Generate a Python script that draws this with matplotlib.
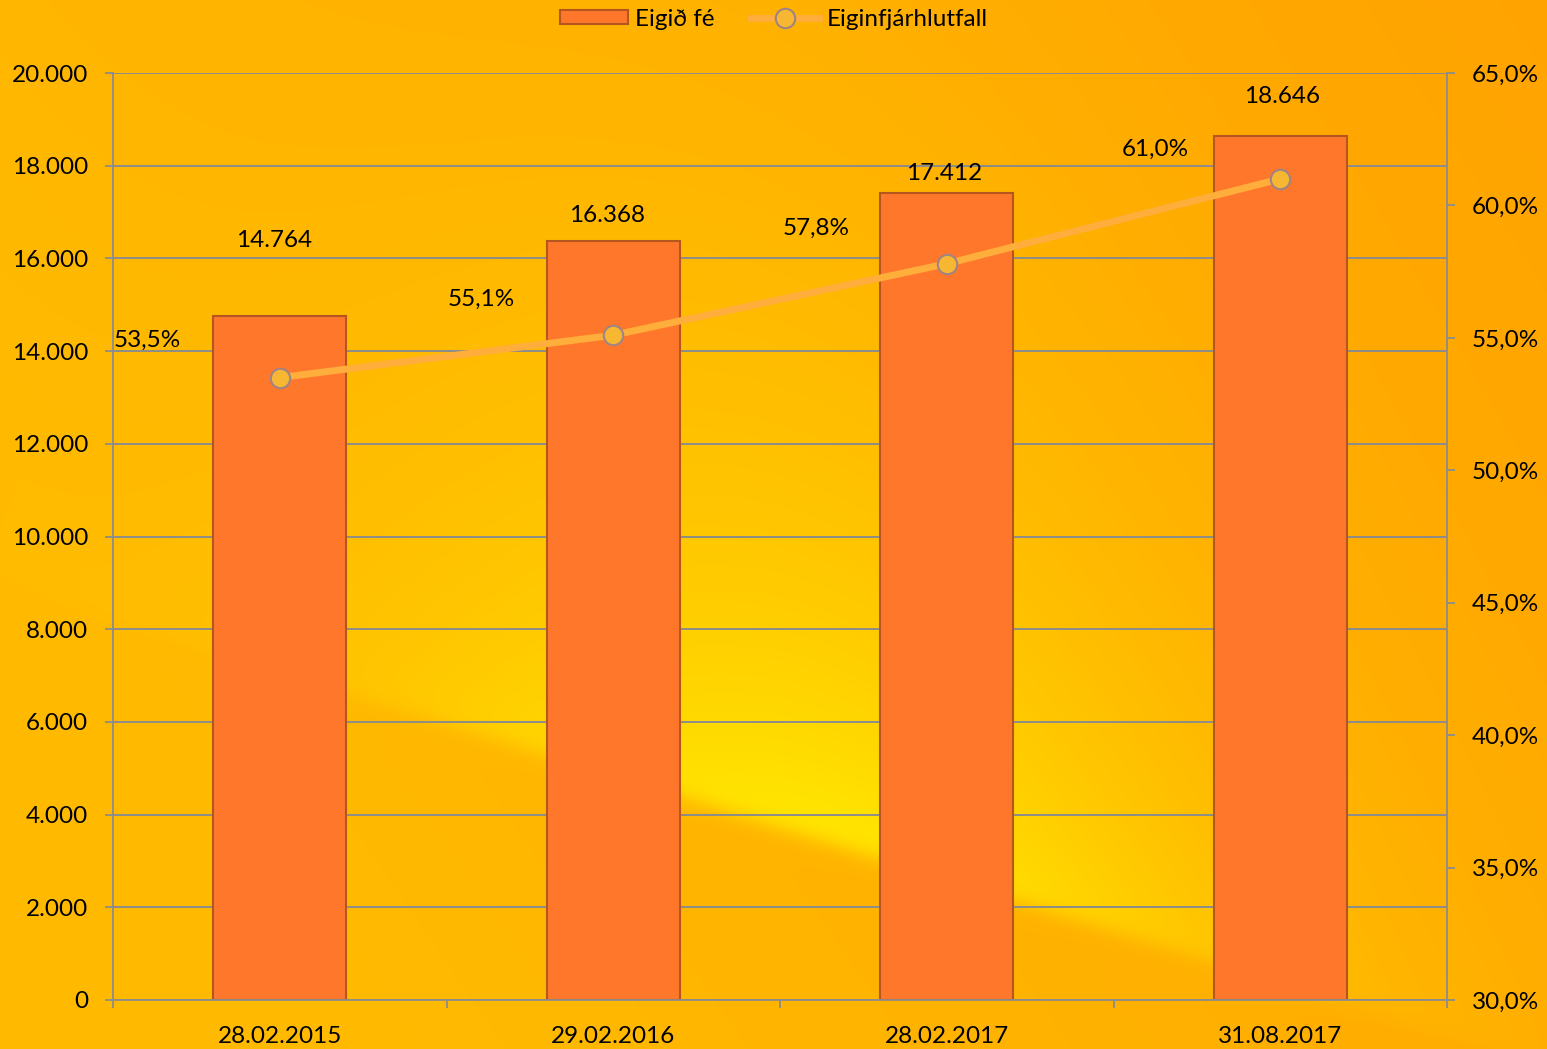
import numpy as np
import matplotlib
matplotlib.use("Agg")
import matplotlib.pyplot as plt
from matplotlib.patches import Patch
from matplotlib.lines import Line2D
from matplotlib.ticker import FixedLocator, FuncFormatter

categories = ['28.02.2015', '29.02.2016', '28.02.2017', '31.08.2017']
equity = [14764, 16368, 17412, 18646]
ratio = [53.5, 55.1, 57.8, 61.0]
equity_labels = ['14.764', '16.368', '17.412', '18.646']
ratio_labels = ['53,5%', '55,1%', '57,8%', '61,0%']
left_ticks = [0, 2000, 4000, 6000, 8000, 10000, 12000, 14000, 16000, 18000, 20000]
right_ticks = [30, 35, 40, 45, 50, 55, 60, 65]

# label placement (pixels)
equity_label_offsets = [(-6, 75), (-6, 26), (-3, 19), (2, 39)]
ratio_label_offsets = [(-132, 37), (-132, 36), (-131, 35), (-125, 30)]

plt.rcParams['font.family'] = ['Lato', 'DejaVu Sans']
FS = 17.5

W, H = 1547, 1049
fig = plt.figure(figsize=(W / 100, H / 100), dpi=100)

# background gradient (decorative)
bg = fig.add_axes([0, 0, 1, 1], zorder=-10)
yy, xx = np.mgrid[0:H, 0:W].astype(float)
orange = np.array([1.0, 0.63, 0.0])
amber = np.array([1.0, 0.73, 0.0])
yellow = np.array([1.0, 0.91, 0.0])
t = np.clip(0.75 * xx / W + 0.35 * (1 - yy / H) - 0.2, 0, 1)[..., None]
img = amber * (1 - t) + orange * t
yline = 585 + 0.31 * xx
d = yline - yy
edge = 1 / (1 + np.exp(-d / 6))
fall = np.exp(-np.clip(d, 0, None) / 320)
horiz = np.exp(-((xx - 820) / 420) ** 2)
w = np.clip(edge * fall * horiz * 1.0, 0, 1)[..., None]
img = img * (1 - w) + yellow * w
bg.imshow(img, aspect='auto', extent=[0, 1, 0, 1])
bg.axis('off')

ax = fig.add_axes([113 / W, 1 - 1000 / H, (1447 - 113) / W, (1000 - 73) / H])
ax.patch.set_alpha(0)
gray = '#8c8c8c'

x = np.arange(len(categories))
ax.bar(x, equity, width=0.4, color='#FF772B', edgecolor='#B5561E', linewidth=1.5, zorder=2)
ax.set_xlim(-0.5, 3.5)
ax.set_ylim(0, 20000)
ax.yaxis.set_major_locator(FixedLocator(left_ticks))
ax.yaxis.set_major_formatter(FuncFormatter(lambda v, p: f"{int(v):,}".replace(',', '.')))
ax.grid(axis='y', color=gray, linewidth=1.4, zorder=0)
ax.set_axisbelow(True)
ax.set_xticks(x)
ax.set_xticklabels(categories)
ax.set_xticks(np.arange(-0.5, 4, 1), minor=True)
ax.tick_params(axis='x', which='major', length=0, pad=19, labelsize=FS)
ax.tick_params(axis='x', which='minor', length=6, color=gray, width=1.3, direction='out')
ax.tick_params(axis='y', length=6, color=gray, width=1.3, pad=12, labelsize=FS)
for s in ['top', 'right']:
    ax.spines[s].set_visible(False)
for s in ['left', 'bottom']:
    ax.spines[s].set_color(gray)
    ax.spines[s].set_linewidth(1.3)

for xi, v, lab, off in zip(x, equity, equity_labels, equity_label_offsets):
    ax.annotate(lab, (xi, v), xytext=(off[0], off[1]), textcoords='offset pixels',
                ha='center', va='center', fontsize=FS)

ax2 = ax.twinx()
ax2.patch.set_alpha(0)
ax2.set_ylim(30, 65)
ax2.yaxis.set_major_locator(FixedLocator(right_ticks))
ax2.yaxis.set_major_formatter(FuncFormatter(lambda v, p: f"{v:.1f}%".replace('.', ',')))
ax2.tick_params(axis='y', length=6, color=gray, width=1.3, pad=12, labelsize=FS)
for s in ['top', 'left', 'bottom']:
    ax2.spines[s].set_visible(False)
ax2.spines['right'].set_color(gray)
ax2.spines['right'].set_linewidth(1.3)

ax2.plot(x, ratio, color='#FFAD3B', linewidth=5, solid_capstyle='round', zorder=3,
         marker='o', markersize=14, markerfacecolor='#F7B733',
         markeredgecolor='#A08484', markeredgewidth=1.5)
for xi, v, lab, off in zip(x, ratio, ratio_labels, ratio_label_offsets):
    ax2.annotate(lab, (xi, v), xytext=(off[0], off[1]), textcoords='offset pixels',
                 ha='center', va='center', fontsize=FS)

handles = [Patch(facecolor='#FF772B', edgecolor='#B5561E', linewidth=1.5),
           Line2D([0], [0], color='#FFAD3B', linewidth=5, marker='o', markersize=14,
                  markerfacecolor='#F7B733', markeredgecolor='#A08484', markeredgewidth=1.5)]
fig.legend(handles, ['Eigið fé', 'Eiginfjárhlutfall'], loc='center',
           bbox_to_anchor=(0.5, 1 - 19 / H), ncol=2, frameon=False, fontsize=FS,
           handlelength=2.8, handleheight=0.55, handletextpad=0.3, columnspacing=1.5)

fig.savefig('out.png', dpi=100)
